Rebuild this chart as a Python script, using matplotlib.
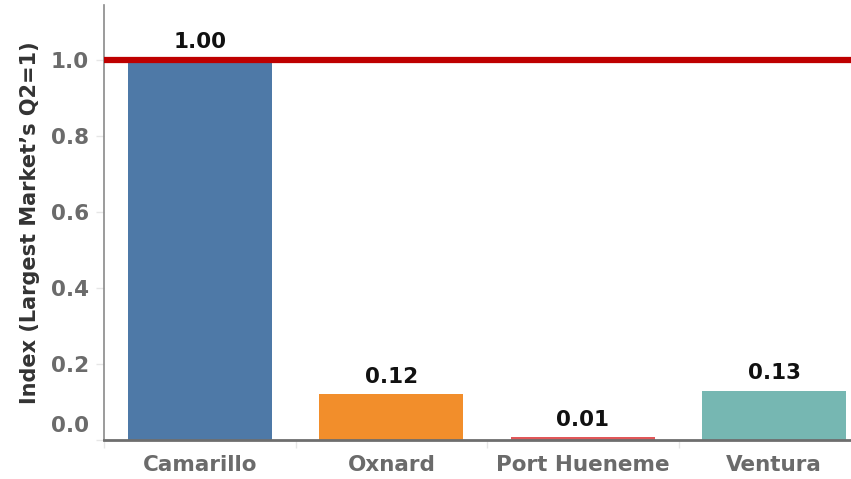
import matplotlib
matplotlib.use("Agg")
import matplotlib.pyplot as plt
from matplotlib.transforms import ScaledTranslation
import numpy as np

categories = ["Camarillo", "Oxnard", "Port Hueneme", "Ventura"]
values = [1.00, 0.119, 0.006, 0.128]
labels = ["1.00", "0.12", "0.01", "0.13"]
colors = ["#4E79A7", "#F28E2B", "#E15759", "#76B7B2"]
reference_value = 1.0
yticks = [0.0, 0.2, 0.4, 0.6, 0.8, 1.0]
ylabel = "Index (Largest Market\u2019s Q2=1)"

W, H = 851, 479
fig = plt.figure(figsize=(W / 100, H / 100), dpi=100)
ax = fig.add_axes([104.3 / W, (H - 439.5) / H, 1 - 104.3 / W, (439.5 - 5) / H])

x = np.arange(len(categories))
ax.bar(x, values, width=0.752, color=colors, zorder=2)
ax.axhline(reference_value, color="#BE0000", lw=4.5, zorder=3)

for xi, v, lab in zip(x, values, labels):
    ax.annotate(lab, (xi, v), xytext=(0, 5.5), textcoords="offset points",
                ha="center", va="bottom", fontsize=15.5, fontweight="bold",
                color="#111111", zorder=4)

ax.set_xlim(-0.5, 3.401)
ax.set_ylim(0, 1.145)

ax.set_xticks(x)
ax.set_xticklabels(categories, fontsize=15.5, fontweight="bold", color="#6b6b6b")
ax.tick_params(axis="x", which="major", length=0, pad=11)
ax.set_xticks(np.arange(-0.5, len(categories) - 0.5, 1.0), minor=True)
ax.tick_params(axis="x", which="minor", length=6, color="#e6e6e6", width=1)

ax.set_yticks(yticks)
ax.set_yticklabels([f"{t:.1f}" for t in yticks], fontsize=15.5,
                   fontweight="bold", color="#6b6b6b")
ax.tick_params(axis="y", length=6, color="#e6e6e6", width=1, pad=5)
zero_lab = ax.get_yticklabels()[0]
zero_lab.set_transform(zero_lab.get_transform()
                       + ScaledTranslation(0, 16 / 100, fig.dpi_scale_trans))

ax.set_ylabel(ylabel, fontsize=15, fontweight="bold", color="#333333",
              labelpad=8)

for s in ["top", "right"]:
    ax.spines[s].set_visible(False)
ax.spines["left"].set_color("#8a8a8a")
ax.spines["left"].set_linewidth(1.2)
ax.spines["bottom"].set_color("#6e6e6e")
ax.spines["bottom"].set_linewidth(2)
ax.spines["bottom"].set_zorder(5)

fig.savefig("out.png", dpi=100)
